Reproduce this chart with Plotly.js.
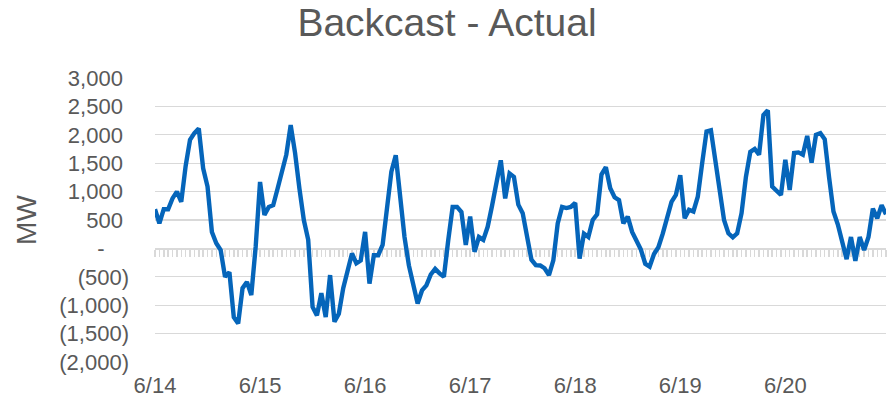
<!DOCTYPE html>
<html>
<head>
<meta charset="utf-8">
<script src="https://cdn.plot.ly/plotly-3.0.1.min.js"></script>
<style>html,body{margin:0;padding:0;background:#fff;}#chart{width:894px;height:401px;}</style>
</head>
<body>
<div id="chart"></div>
<script>
// Days shown on the x axis (hourly data, 24 points per day)
const days = ['6/14', '6/15', '6/16', '6/17', '6/18', '6/19', '6/20'];
const dayLabels = ['6/14', '6/15', '6/16', '6/17', '6/18', '6/19', '6/20'];

// Backcast - Actual, MW (hourly)
const mw = [
  690, 440, 690, 690, 880, 1000, 820, 1450, 1910, 2030, 2110, 1410, 1090, 290, 90, -30, -500, -420, -1210, -1320, -700, -590, -820, 30,
  1170, 590, 730, 760, 1050, 1380, 1650, 2170, 1680, 1050, 500, 150, -1030, -1180, -790, -1210, -470, -1290, -1150, -700, -350, -90, -260, -210,
  290, -620, -120, -120, 60, 730, 1350, 1640, 850, 200, -300, -620, -970, -740, -650, -460, -360, -440, -500, 150, 730, 730, 640, 60,
  560, -60, 200, 150, 380, 750, 1150, 1550, 880, 1320, 1260, 770, 620, 150, -200, -295, -300, -350, -470, -210, 440, 730, 710, 730,
  800, -180, 260, 200, 500, 600, 1300, 1430, 1060, 900, 850, 440, 560, 290, 150, -20, -270, -320, -100, 20, 260, 560, 820, 940,
  1290, 530, 680, 650, 910, 1500, 2060, 2080, 1560, 1000, 500, 265, 195, 265, 620, 1260, 1700, 1750, 1650, 2350, 2430, 1090, 1020, 940,
  1560, 1030, 1680, 1690, 1650, 1980, 1510, 2000, 2030, 1920, 1250, 650, 420, 150, -190, 200, -220, 200, -30, 200, 700, 530, 760, 600
];

// Y axis ticks (accounting format)
const yTickVals = [-2000, -1500, -1000, -500, 0, 500, 1000, 1500, 2000, 2500, 3000];
const yTickText = ['(2,000)', '(1,500)', '(1,000)', '(500)', '-', '500', '1,000', '1,500', '2,000', '2,500', '3,000'];

// hourly category labels
const categories = [];
days.forEach(d => { for (let h = 0; h < 24; h++) categories.push(d + ' ' + h + ':00'); });
const dayTickVals = days.map(d => d + ' 0:00');

// accounting-style alignment padding
const yTickShown = yTickText.map((t, i) => {
  const v = yTickVals[i];
  if (v < 0) return t;
  if (v === 0) return t + '\u2007\u00A0\u00A0';
  return t + '\u00A0';
});

const FONT = 'Liberation Sans, Arial, sans-serif';
const GREY = '#595959';
const GRID = '#D9D9D9';

const traces = [
  {
    x: categories, y: mw, type: 'scatter', mode: 'lines',
    line: {color: '#0565BA', width: 4.4},
    xaxis: 'x', yaxis: 'y', showlegend: false, hoverinfo: 'x+y'
  },
  {
    x: categories, y: mw, type: 'scatter', mode: 'none',
    xaxis: 'x2', yaxis: 'y', showlegend: false, hoverinfo: 'skip'
  }
];

const layout = {
  width: 894, height: 401,
  margin: {l: 155, r: 8, t: 78, b: 39},
  paper_bgcolor: '#fff', plot_bgcolor: '#fff',
  font: {family: FONT, color: GREY},
  title: {
    text: 'Backcast - Actual',
    font: {family: FONT, size: 39, color: GREY},
    x: 0.5, xref: 'container', xanchor: 'center',
    y: 1 - 22 / 401, yref: 'container', yanchor: 'middle'
  },
  xaxis: {
    type: 'category', range: [0, 167],
    anchor: 'free', position: 0.4,
    showline: true, linecolor: GRID, linewidth: 1.5,
    ticks: 'outside', ticklen: 7, tickwidth: 1.5, tickcolor: GRID,
    tickmode: 'linear', tick0: 0, dtick: 1,
    showticklabels: false, showgrid: false, zeroline: false,
    layer: 'below traces', fixedrange: true
  },
  xaxis2: {
    type: 'category', range: [0, 167],
    overlaying: 'x', anchor: 'y', side: 'bottom',
    tickmode: 'array', tickvals: dayTickVals, ticktext: dayLabels,
    ticks: '', showline: false, showgrid: false, zeroline: false,
    tickfont: {family: FONT, size: 22, color: GREY},
    ticklabelstandoff: 8, fixedrange: true
  },
  yaxis: {
    range: [-2000, 3000],
    tickmode: 'array', tickvals: yTickVals, ticktext: yTickShown,
    showgrid: true, gridcolor: GRID, gridwidth: 1.3,
    zeroline: false, showline: false, ticks: '',
    tickfont: {family: FONT, size: 22, color: GREY},
    ticklabelstandoff: 25,
    title: {text: 'MW', font: {family: FONT, size: 28, color: GREY}, standoff: 14},
    automargin: false, fixedrange: true
  }
};

Plotly.newPlot('chart', traces, layout, {displayModeBar: false, staticPlot: true});
</script>
</body>
</html>
